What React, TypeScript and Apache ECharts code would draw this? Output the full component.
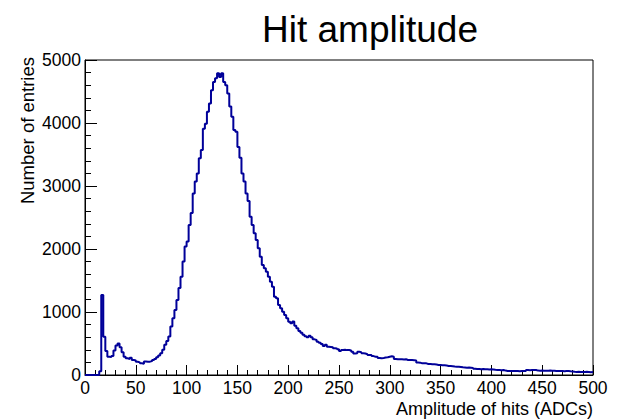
import React, { useEffect, useRef } from "react";
import * as echarts from "echarts";

const titleText = "Hit amplitude";
const xTitle = "Amplitude of hits (ADCs)";
const yTitle = "Number of entries";

const binStart = 0;
const binWidth = 2;
const xMin = 0;
const xMax = 500;
const yMin = 0;
const yMax = 5000;

// counts per 2-ADC bin, 0..500
const counts: number[] = [
  0, 0, 0, 0, 0, 0, 0, 60, 1270, 608,
  380, 290, 285, 300, 390, 470, 500, 440, 360, 290,
  265, 255, 275, 240, 230, 210, 200, 185, 180, 215,
  210, 212, 220, 240, 255, 280, 310, 345, 400, 480,
  540, 610, 770, 900, 1030, 1190, 1380, 1560, 1800, 2040,
  2120, 2380, 2570, 2880, 3070, 3200, 3440, 3570, 3910, 3990,
  4180, 4310, 4520, 4650, 4710, 4790, 4730, 4790, 4650, 4600,
  4470, 4260, 4100, 3890, 3860, 3620, 3450, 3200, 3070, 2880,
  2760, 2513, 2381, 2249, 2143, 2010, 1878, 1746, 1693, 1640,
  1560, 1481, 1402, 1243, 1217, 1111, 1058, 1005, 952, 899,
  846, 820, 850, 780, 741, 700, 672, 640, 615, 600,
  625, 600, 566, 556, 529, 513, 492, 460, 480, 450,
  445, 440, 425, 420, 407, 380, 397, 400, 395, 397,
  390, 370, 340, 345, 370, 362, 344, 340, 330, 317,
  317, 300, 291, 291, 270, 265, 270, 278, 282, 291,
  298, 290, 255, 249, 252, 249, 245, 249, 238, 240,
  238, 236, 230, 200, 196, 185, 187, 185, 175, 175,
  169, 170, 167, 159, 160, 155, 153, 150, 143, 143,
  140, 135, 132, 132, 128, 122, 120, 116, 118, 115,
  112, 100, 95, 96, 93, 95, 90, 92, 88, 90,
  88, 82, 79, 80, 77, 79, 70, 65, 63, 65,
  63, 62, 65, 60, 63, 64, 63, 79, 75, 79,
  78, 79, 70, 69, 71, 68, 69, 66, 70, 69,
  67, 63, 64, 62, 65, 60, 63, 62, 58, 56,
  50, 48, 52, 47, 49, 46, 50, 48, 45, 48,
];

const FONT = "'Liberation Sans', Arial, Helvetica, sans-serif";
const LINE_COLOR = "#000099";

export default function App() {
  const ref = useRef<HTMLDivElement>(null);

  useEffect(() => {
    if (!ref.current) return;
    const chart = echarts.init(ref.current, null, { renderer: "svg" });

    const data: [number, number][] = counts.map((c, i) => [binStart + i * binWidth, c]);
    data.push([binStart + counts.length * binWidth, counts[counts.length - 1]]);

    chart.setOption({
      animation: false,
      backgroundColor: "#ffffff",
      textStyle: { fontFamily: FONT },
      grid: {
        left: 85,
        right: 28,
        top: 60,
        bottom: 45,
        show: true,
        borderColor: "#000",
        borderWidth: 1,
        backgroundColor: "transparent",
      },
      xAxis: {
        type: "value",
        min: xMin,
        max: xMax,
        interval: 50,
        axisLine: { show: true, onZero: false, lineStyle: { color: "#000", width: 1 } },
        axisTick: { show: true, inside: true, length: 10, lineStyle: { color: "#000" } },
        minorTick: { show: true, splitNumber: 5, length: 5, lineStyle: { color: "#000" } },
        splitLine: { show: false },
        axisLabel: {
          color: "#000",
          fontSize: 17.5,
          fontFamily: FONT,
          margin: 4,
          formatter: (v: number) => String(v),
        },
      },
      yAxis: {
        type: "value",
        min: yMin,
        max: yMax,
        interval: 1000,
        axisLine: { show: true, onZero: false, lineStyle: { color: "#000", width: 1 } },
        axisTick: { show: true, inside: true, length: 12, lineStyle: { color: "#000" } },
        minorTick: { show: true, splitNumber: 5, length: 6, lineStyle: { color: "#000" } },
        splitLine: { show: false },
        axisLabel: {
          color: "#000",
          fontSize: 17.5,
          fontFamily: FONT,
          margin: 4,
          formatter: (v: number) => String(v),
        },
      },
      graphic: [
        {
          type: "text",
          x: 370,
          y: 29,
          style: {
            text: titleText,
            fontSize: 37,
            fontFamily: FONT,
            fill: "#000",
            align: "center",
            verticalAlign: "middle",
          },
        },
        {
          type: "text",
          x: 593,
          y: 409,
          style: {
            text: xTitle,
            fontSize: 18,
            fontFamily: FONT,
            fill: "#000",
            align: "right",
            verticalAlign: "middle",
          },
        },
        {
          type: "text",
          x: 27,
          y: 57,
          rotation: Math.PI / 2,
          style: {
            text: yTitle,
            fontSize: 18.5,
            fontFamily: FONT,
            fill: "#000",
            align: "right",
            verticalAlign: "middle",
          },
        },
      ],
      series: [
        {
          type: "line",
          step: "end",
          data,
          showSymbol: false,
          symbol: "none",
          clip: true,
          lineStyle: { color: LINE_COLOR, width: 2 },
        },
      ],
    });

    return () => chart.dispose();
  }, []);

  return <div ref={ref} style={{ width: 621, height: 420, position: "absolute", left: 0, top: 0 }} />;
}
